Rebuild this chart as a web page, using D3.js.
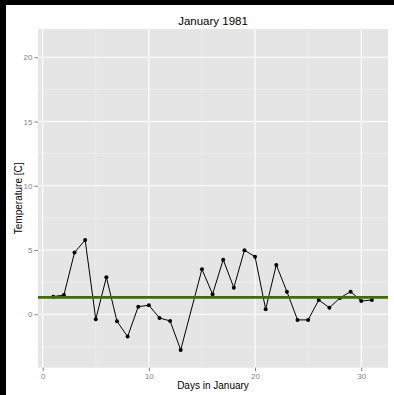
<!DOCTYPE html>
<html><head><meta charset="utf-8">
<script src="https://cdn.jsdelivr.net/npm/d3@7"></script>
<style>body{margin:0;background:#fff}svg{display:block}</style>
</head><body>
<script>
const days = [1,2,3,4,5,6,7,8,9,10,11,12,13,14,15,16,17,18,19,20,21,22,23,24,25,26,27,28,29,30,31];
const temps = [1.37,1.5,4.8,5.78,-0.39,2.88,-0.55,-1.74,0.59,0.70,-0.29,-0.52,-2.78,null,3.5,1.56,4.25,2.07,4.98,4.48,0.39,3.84,1.76,-0.44,-0.44,1.11,0.51,1.27,1.76,1.03,1.11];
const refLine = 1.32;
const xTicks = [0,10,20,30];
const xMinor = [5,15,25];
const yTicks = [0,5,10,15,20];
const yMinor = [-2.5,2.5,7.5,12.5,17.5];
const title = "January 1981";
const xTitle = "Days in January";
const yTitle = "Temperature [C]";

const W=394,H=395;
const P={l:38,r:388,t:29,b:367.7};
const svg=d3.select("body").append("svg").attr("width",W).attr("height",H);
svg.append("rect").attr("width",W).attr("height",H).attr("fill","#fff");
svg.append("rect").attr("x",0).attr("y",0).attr("width",W).attr("height",5).attr("fill","#000");
svg.append("rect").attr("x",0).attr("y",0).attr("width",6).attr("height",H).attr("fill","#000");

const x=d3.scaleLinear().domain([-0.44,32.52]).range([P.l,P.r]);
const y=d3.scaleLinear().domain([-4.16,22.2]).range([P.b,P.t]);

svg.append("rect").attr("x",P.l).attr("y",P.t).attr("width",P.r-P.l).attr("height",P.b-P.t).attr("fill","#e5e5e5");
const g=svg.append("g");
g.selectAll(".ymin").data(yMinor).enter().append("line")
 .attr("x1",P.l).attr("x2",P.r).attr("y1",d=>y(d)).attr("y2",d=>y(d)).attr("stroke","#f2f2f2").attr("stroke-width",0.6);
g.selectAll(".xmin").data(xMinor).enter().append("line")
 .attr("y1",P.t).attr("y2",P.b).attr("x1",d=>x(d)).attr("x2",d=>x(d)).attr("stroke","#f2f2f2").attr("stroke-width",0.6);
g.selectAll(".ymaj").data(yTicks).enter().append("line")
 .attr("x1",P.l).attr("x2",P.r).attr("y1",d=>y(d)).attr("y2",d=>y(d)).attr("stroke","#fff").attr("stroke-width",1.1);
g.selectAll(".xmaj").data(xTicks).enter().append("line")
 .attr("y1",P.t).attr("y2",P.b).attr("x1",d=>x(d)).attr("x2",d=>x(d)).attr("stroke","#fff").attr("stroke-width",1.1);

const yAx=svg.append("g").attr("transform",`translate(${P.l},0)`)
 .call(d3.axisLeft(y).tickValues(yTicks).tickSize(3.5).tickPadding(2));
const xAx=svg.append("g").attr("transform",`translate(0,${P.b})`)
 .call(d3.axisBottom(x).tickValues(xTicks).tickSize(3.5).tickPadding(2));
[yAx,xAx].forEach(a=>{
 a.select(".domain").remove();
 a.selectAll("line").attr("stroke","#7f7f7f");
 a.selectAll("text").attr("fill","#7f7f7f").style("font-family","Liberation Sans, Arial, sans-serif").style("font-size","8px");
});

const data=days.map((d,i)=>({d,v:temps[i]})).filter(p=>p.v!==null);
const line=d3.line().x(p=>x(p.d)).y(p=>y(p.v));
svg.append("path").datum(data).attr("d",line).attr("fill","none").attr("stroke","#000").attr("stroke-width",1);
svg.selectAll(".pt").data(data).enter().append("circle")
 .attr("cx",p=>x(p.d)).attr("cy",p=>y(p.v)).attr("r",2).attr("fill","#000");

svg.append("line").attr("x1",P.l).attr("x2",P.r).attr("y1",y(refLine)).attr("y2",y(refLine))
 .attr("stroke","#44690c").attr("stroke-width",2.8);

const font="Liberation Sans, Arial, sans-serif";
svg.append("text").attr("x",(P.l+P.r)/2).attr("y",25).attr("text-anchor","middle")
 .style("font-family",font).style("font-size","11.5px").attr("fill","#000").text(title);
svg.append("text").attr("x",(P.l+P.r)/2).attr("y",389).attr("text-anchor","middle")
 .style("font-family",font).style("font-size","10px").attr("fill","#000").text(xTitle);
svg.append("text").attr("transform",`translate(22,${(P.t+P.b)/2}) rotate(-90)`).attr("text-anchor","middle")
 .style("font-family",font).style("font-size","10px").attr("fill","#000").text(yTitle);
</script>
</body></html>
